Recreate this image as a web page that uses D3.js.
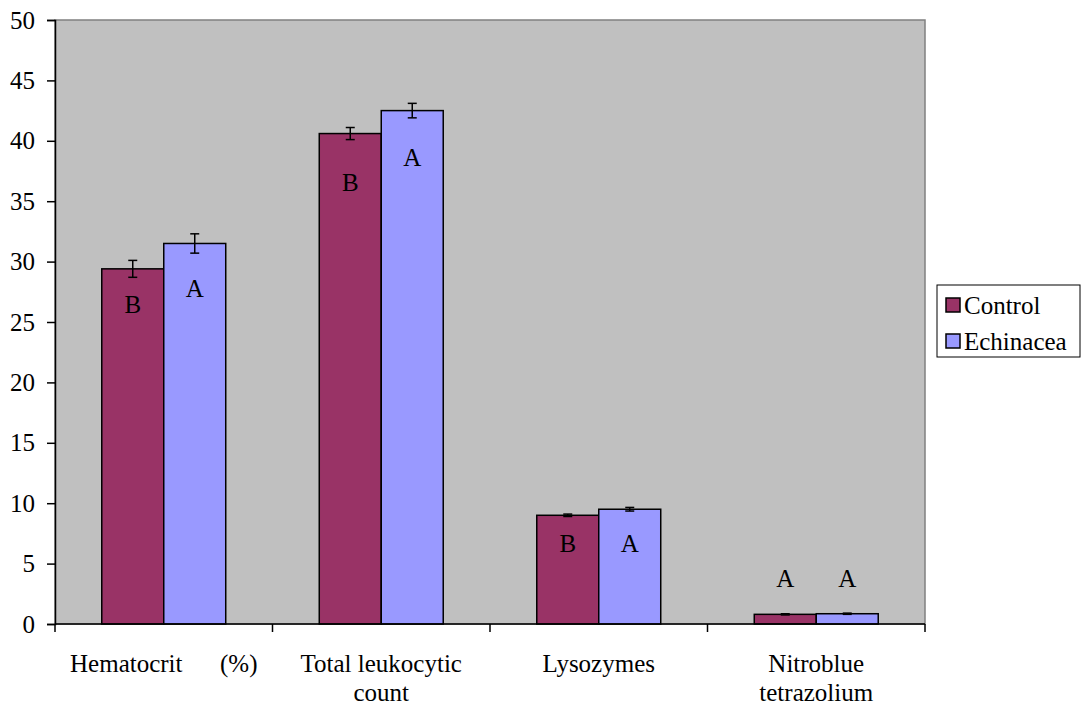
<!DOCTYPE html>
<html>
<head>
<meta charset="utf-8">
<script src="https://cdn.jsdelivr.net/npm/d3@7"></script>
<style>
  body { margin: 0; background: #fff; }
</style>
</head>
<body>
<svg id="chart" width="1083" height="707"></svg>
<script>
// data
const categories = [["Hematocrit      (%)"], ["Total leukocytic", "count"], ["Lysozymes"], ["Nitroblue", "tetrazolium"]];
const series = ["Control", "Echinacea"];
const controlVals = [29.4, 40.6, 9.0, 0.8];
const echinaceaVals = [31.5, 42.5, 9.5, 0.85];
const controlErr = [0.7, 0.5, 0.1, 0.05];
const echinaceaErr = [0.8, 0.6, 0.15, 0.05];
const controlLetters = ["B", "B", "B", "A"];
const echinaceaLetters = ["A", "A", "A", "A"];
const controlLetterY = [26.5, 36.6, 6.7, 3.8];
const echinaceaLetterY = [27.8, 38.6, 6.7, 3.8];
const yTicks = [0, 5, 10, 15, 20, 25, 30, 35, 40, 45, 50];
const colors = ["#993366", "#9999FF"];

const FONT = '"Times New Roman", "Liberation Serif", "DejaVu Serif", serif';
const FS = 25;

const margin = { top: 20, left: 55, right: 158, bottom: 83 };
const width = 1083, height = 707;
const innerW = width - margin.left - margin.right;
const innerH = height - margin.top - margin.bottom;

const svg = d3.select("#chart");
const g = svg.append("g").attr("transform", `translate(${margin.left},${margin.top})`);

const x0 = d3.scaleBand().domain(d3.range(categories.length)).range([0, innerW]).paddingInner(0).paddingOuter(0);
const x1 = d3.scaleBand().domain([0, 1]).range([0, x0.bandwidth() * 0.57]);
const groupOffset = x0.bandwidth() * 0.215;
const y = d3.scaleLinear().domain([0, 50]).range([innerH, 0]);

// plot area
g.append("rect").attr("width", innerW).attr("height", innerH)
  .attr("fill", "#C0C0C0").attr("stroke", "#808080").attr("stroke-width", 1.5);

const rows = [];
categories.forEach((c, i) => {
  rows.push({ i, s: 0, v: controlVals[i], e: controlErr[i], l: controlLetters[i], ly: controlLetterY[i] });
  rows.push({ i, s: 1, v: echinaceaVals[i], e: echinaceaErr[i], l: echinaceaLetters[i], ly: echinaceaLetterY[i] });
});
const bx = d => x0(d.i) + groupOffset + x1(d.s);

g.selectAll("rect.bar").data(rows).enter().append("rect")
  .attr("class", "bar")
  .attr("x", bx)
  .attr("y", d => y(d.v))
  .attr("width", x1.bandwidth())
  .attr("height", d => innerH - y(d.v))
  .attr("fill", d => colors[d.s])
  .attr("stroke", "#000").attr("stroke-width", 1.5);

// error bars
const eb = g.selectAll("g.err").data(rows).enter().append("g").attr("class", "err")
  .attr("stroke", "#000").attr("stroke-width", 1.5);
eb.append("line")
  .attr("x1", d => bx(d) + x1.bandwidth() / 2).attr("x2", d => bx(d) + x1.bandwidth() / 2)
  .attr("y1", d => y(d.v + d.e)).attr("y2", d => y(d.v - d.e));
eb.append("line")
  .attr("x1", d => bx(d) + x1.bandwidth() / 2 - 4.5).attr("x2", d => bx(d) + x1.bandwidth() / 2 + 4.5)
  .attr("y1", d => y(d.v + d.e)).attr("y2", d => y(d.v + d.e));
eb.append("line")
  .attr("x1", d => bx(d) + x1.bandwidth() / 2 - 4.5).attr("x2", d => bx(d) + x1.bandwidth() / 2 + 4.5)
  .attr("y1", d => y(d.v - d.e)).attr("y2", d => y(d.v - d.e));

// significance letters
g.selectAll("text.letter").data(rows).enter().append("text")
  .attr("class", "letter")
  .attr("x", d => bx(d) + x1.bandwidth() / 2)
  .attr("y", d => y(d.ly))
  .attr("dy", "0.35em")
  .attr("text-anchor", "middle")
  .attr("font-size", FS)
  .style("font-family", FONT)
  .text(d => d.l);

// y axis
const yAxis = g.append("g").call(d3.axisLeft(y).tickValues(yTicks).tickSize(8).tickPadding(12));
yAxis.attr("font-family", null);
yAxis.selectAll("text").attr("font-size", FS).attr("fill", "#000").style("font-family", FONT);
yAxis.select(".domain").attr("stroke", "#000").attr("stroke-width", 1.5);
yAxis.selectAll(".tick line").attr("stroke-width", 1.5);

// x axis
const xAxisG = g.append("g").attr("transform", `translate(0,${innerH})`);
xAxisG.append("line").attr("x1", 0).attr("x2", innerW).attr("stroke", "#000").attr("stroke-width", 1.5);
xAxisG.selectAll("line.tk").data(d3.range(categories.length + 1)).enter().append("line")
  .attr("class", "tk")
  .attr("x1", i => i * x0.step()).attr("x2", i => i * x0.step())
  .attr("y1", 0).attr("y2", 8).attr("stroke", "#000").attr("stroke-width", 1.5);
const xl = xAxisG.selectAll("text.cat").data(categories).enter().append("text")
  .attr("class", "cat")
  .attr("x", (c, i) => x0(i) + x0.bandwidth() / 2)
  .attr("y", 48)
  .attr("text-anchor", "middle")
  .attr("font-size", FS)
  .style("font-family", FONT)
  .style("white-space", "pre");
xl.selectAll("tspan").data(d => d).enter().append("tspan")
  .attr("x", function () { return this.parentNode.getAttribute("x"); })
  .attr("dy", (d, j) => j === 0 ? 0 : 29)
  .text(d => d);

// legend
const legend = svg.append("g").attr("transform", "translate(937,285)");
legend.append("rect").attr("width", 143).attr("height", 72)
  .attr("fill", "#fff").attr("stroke", "#000").attr("stroke-width", 1);
series.forEach((s, i) => {
  legend.append("rect").attr("x", 9).attr("y", 13 + i * 36).attr("width", 14).attr("height", 14)
    .attr("fill", colors[i]).attr("stroke", "#000").attr("stroke-width", 1.5);
  legend.append("text").attr("x", 27).attr("y", 20 + i * 36).attr("dy", "0.35em")
    .attr("font-size", FS).style("font-family", FONT).text(s);
});
</script>
</body>
</html>
